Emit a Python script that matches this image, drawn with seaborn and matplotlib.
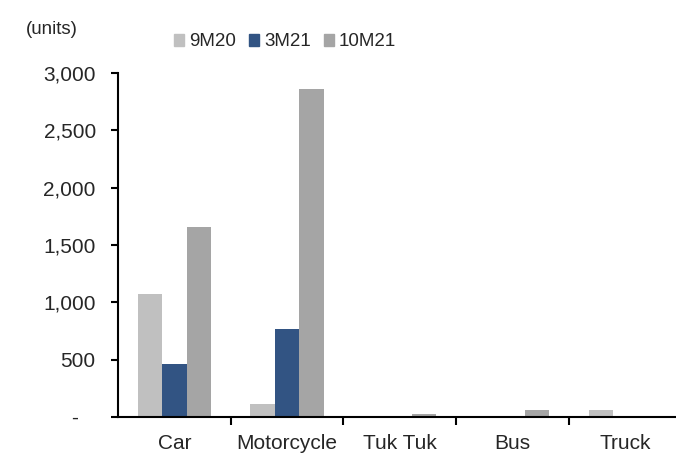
import numpy as np
import pandas as pd
import matplotlib
matplotlib.use('Agg')
import matplotlib.pyplot as plt
from matplotlib.ticker import FuncFormatter
import seaborn as sns

categories = ['Car', 'Motorcycle', 'Tuk Tuk', 'Bus', 'Truck']
periods = ['9M20', '3M21', '10M21']
v_9m20 = [1070, 115, 0, 0, 60]
v_3m21 = [465, 770, 5, 0, 8]
v_10m21 = [1655, 2860, 25, 60, 4]
colors = ['#C0C0C0', '#325483', '#A5A5A5']

# long table for seaborn
df = pd.DataFrame({
    'category': categories * 3,
    'period': [p for p in periods for _ in categories],
    'units': v_9m20 + v_3m21 + v_10m21,
})

sns.set_style('white')
plt.rcParams['font.family'] = ['Liberation Sans', 'DejaVu Sans']

fig = plt.figure(figsize=(6.76, 4.53), dpi=100)
ax = fig.add_axes([118 / 676, 36 / 453, 558 / 676, 344 / 453])

sns.barplot(data=df, x='category', y='units', hue='period', order=categories,
            hue_order=periods, palette=colors, width=0.65, linewidth=0,
            saturation=1, ax=ax)

ax.set_xlim(-0.5, 4.45)
ax.set_ylim(0, 3000)
ax.set_yticks(np.arange(0, 3001, 500))
ax.yaxis.set_major_formatter(FuncFormatter(lambda v, p: '-   ' if v == 0 else f'{int(v):,}'))
ax.set_xlabel('')
ax.set_ylabel('')

# ticks between categories
ax.set_xticks(np.arange(0.5, 4, 1), minor=True)
ax.tick_params(axis='x', which='major', length=0, labelsize=15, pad=12)
ax.tick_params(axis='x', which='minor', length=6, width=1.5, direction='out', color='black', bottom=True)
ax.tick_params(axis='y', length=5, width=1.5, direction='out', color='black', labelsize=15, pad=11, left=True)

sns.despine(ax=ax)
for s in ['left', 'bottom']:
    ax.spines[s].set_color('black')
    ax.spines[s].set_linewidth(1.5)

ax.legend_.remove()
handles = [plt.Rectangle((0, 0), 1, 1, color=c) for c in colors]
fig.legend(handles, periods, loc='center', bbox_to_anchor=(285 / 676, 1 - 42 / 453),
           ncol=3, frameon=False, fontsize=13.5, handlelength=0.55, handleheight=0.55,
           handletextpad=0.25, columnspacing=0.7)

fig.text(26 / 676, 1 - 30 / 453, '(units)', fontsize=13.5, va='center', ha='left')

fig.savefig('out.png', dpi=100)
